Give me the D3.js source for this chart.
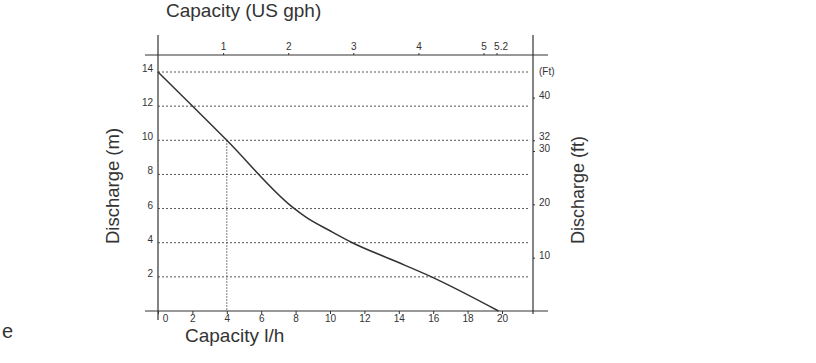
<!DOCTYPE html>
<html>
<head>
<meta charset="utf-8">
<script src="https://cdn.jsdelivr.net/npm/d3@7"></script>
<style>
  body { margin: 0; background: #fff; }
  svg { display: block; font-family: "Liberation Sans", Arial, sans-serif; }
</style>
</head>
<body>
<div id="chart"></div>
<script>
// Pump curve: capacity (l/h) vs discharge head (m)
const capacityLh = [0, 4, 7.8, 8.6, 10, 11.3, 13.6, 15.9, 19.8];
const dischargeM = [14, 10, 6.1, 5.5, 4.7, 4, 3, 2, 0];

const bottomTicks = [0, 2, 4, 6, 8, 10, 12, 14, 16, 18, 20];
const leftTicks = [2, 4, 6, 8, 10, 12, 14];
const topTicks = [1, 2, 3, 4, 5, 5.2];          // US gph
const rightTicks = [10, 20, 30, 32, 40];         // ft
const LH_PER_GPH = 3.785;

const width = 816, height = 363;
const svg = d3.select('#chart').append('svg')
  .attr('width', width).attr('height', height);

// Scales
const x = d3.scaleLinear().domain([0, 20]).range([158, 502]);
const y = d3.scaleLinear().domain([0, 14]).range([311, 72]);
const xGph = d3.scaleLinear().domain([0, 5.2]).range([158, x(5.2 * LH_PER_GPH)]);
const yFt = d3.scaleLinear().domain([0, 40]).range([y(0), y(12.5)]);

const ink = '#333';

// Horizontal dotted grid
svg.append('g').selectAll('line').data(leftTicks).join('line')
  .attr('x1', x(0)).attr('x2', 528)
  .attr('y1', d => y(d)).attr('y2', d => y(d))
  .attr('stroke', '#555').attr('stroke-width', 1)
  .attr('stroke-dasharray', '2,2');

// Vertical dotted line at 4 l/h
svg.append('line')
  .attr('x1', x(4)).attr('x2', x(4))
  .attr('y1', y(10)).attr('y2', y(0))
  .attr('stroke', '#555').attr('stroke-dasharray', '1.5,1.5');

// Frame lines
const frame = svg.append('g').attr('stroke', ink).attr('stroke-width', 1.2);
frame.append('line').attr('x1', 145).attr('x2', 548).attr('y1', y(0)).attr('y2', y(0));
frame.append('line').attr('x1', 145).attr('x2', 548).attr('y1', 55).attr('y2', 55);
frame.append('line').attr('x1', x(0)).attr('x2', x(0)).attr('y1', 35).attr('y2', 320);
frame.append('line').attr('x1', 533).attr('x2', 533).attr('y1', 35).attr('y2', 314);

// Bottom axis (l/h)
const bAxis = d3.axisBottom(x).tickValues(bottomTicks).tickSize(3).tickPadding(1);
const bg = svg.append('g').attr('transform', `translate(0,${y(0)})`).call(bAxis);
bg.select('.domain').remove();
bg.selectAll('line').attr('stroke', ink);
bg.selectAll('text').attr('fill', ink).style('font-size', '10px')
  .attr('dx', d => d === 0 ? 7 : 0);

// Left axis (m)
const lAxis = d3.axisLeft(y).tickValues(leftTicks).tickSize(0).tickPadding(5);
const lg = svg.append('g').attr('transform', `translate(${x(0)},0)`).call(lAxis);
lg.select('.domain').remove();
lg.selectAll('text').attr('fill', ink).style('font-size', '10px').attr('dy', '-0.05em');

// Top axis (US gph)
const tAxis = d3.axisTop(xGph).tickValues(topTicks).tickSize(2).tickPadding(3)
  .tickFormat(d => d);
const tg = svg.append('g').attr('transform', 'translate(0,55)').call(tAxis);
tg.select('.domain').remove();
tg.selectAll('line').attr('stroke', ink);
tg.selectAll('text').attr('fill', ink).style('font-size', '10px')
  .attr('dx', d => d === 5.2 ? 4 : 0);

// Right axis (ft); 32 and 30 sit very close, nudge them apart
const rAxis = d3.axisRight(yFt).tickValues(rightTicks).tickSize(2).tickPadding(4);
const rg = svg.append('g').attr('transform', 'translate(533,0)').call(rAxis);
rg.select('.domain').remove();
rg.selectAll('line').attr('stroke', ink);
rg.selectAll('text').attr('fill', ink).style('font-size', '10px')
  .attr('dy', d => d === 32 ? '-0.08em' : d === 30 ? '0.1em' : '0.1em');

svg.append('text').attr('x', 539).attr('y', 75)
  .attr('fill', ink).style('font-size', '10px').text('(Ft)');

// Curve
const pts = capacityLh.map((c, i) => [c, dischargeM[i]]);
svg.append('path').datum(pts)
  .attr('fill', 'none').attr('stroke', ink).attr('stroke-width', 1.5)
  .attr('d', d3.line().x(d => x(d[0])).y(d => y(d[1])).curve(d3.curveMonotoneX));

// Titles
svg.append('text').attr('x', 166).attr('y', 17)
  .attr('fill', ink).style('font-size', '19px').text('Capacity (US gph)');
svg.append('text').attr('x', 185).attr('y', 342)
  .attr('fill', ink).style('font-size', '19px').text('Capacity l/h');
svg.append('text').attr('transform', 'translate(119,186) rotate(-90)')
  .attr('text-anchor', 'middle').attr('fill', ink).style('font-size', '18.5px')
  .text('Discharge (m)');
svg.append('text').attr('transform', 'translate(584,190) rotate(-90)')
  .attr('text-anchor', 'middle').attr('fill', ink).style('font-size', '18px')
  .text('Discharge (ft)');
svg.append('text').attr('x', 2).attr('y', 338)
  .attr('fill', ink).style('font-size', '20px').text('e');
</script>
</body>
</html>
